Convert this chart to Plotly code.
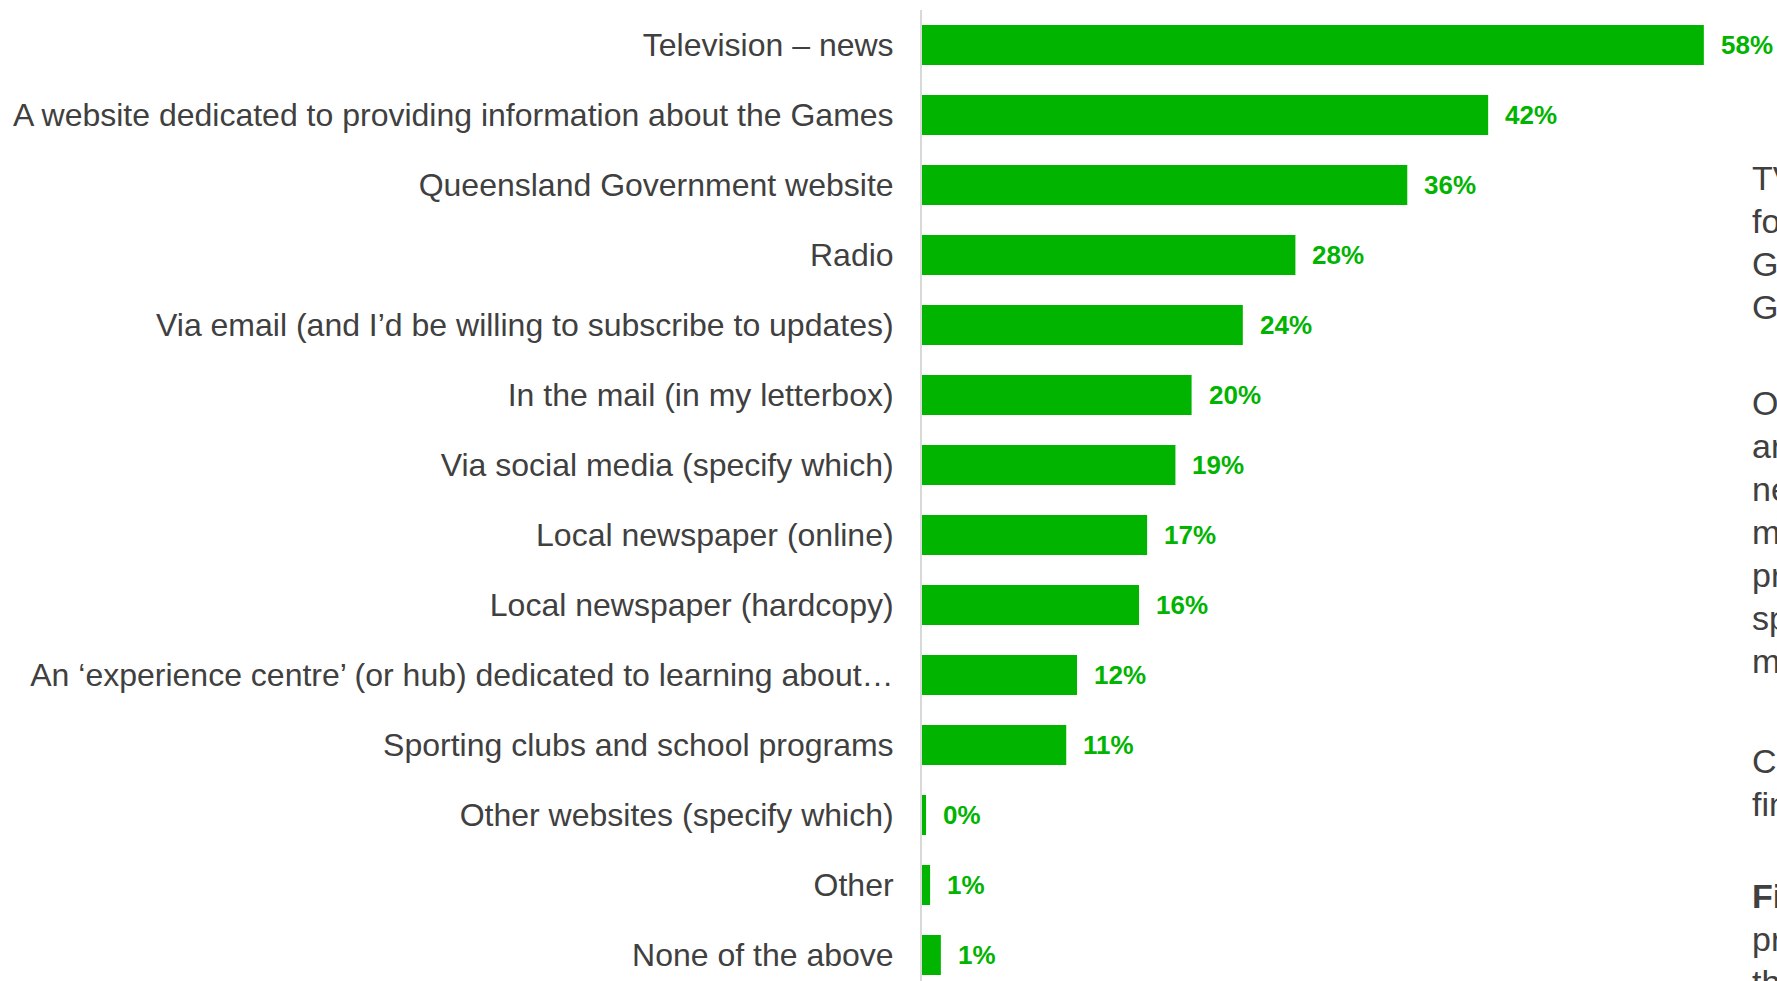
import plotly.graph_objects as go

# ---------------- data ----------------
categories = [
    "Television – news",
    "A website dedicated to providing information about the Games",
    "Queensland Government website",
    "Radio",
    "Via email (and I’d be willing to subscribe to updates)",
    "In the mail (in my letterbox)",
    "Via social media (specify which)",
    "Local newspaper (online)",
    "Local newspaper (hardcopy)",
    "An ‘experience centre’ (or hub) dedicated to learning about…",
    "Sporting clubs and school programs",
    "Other websites (specify which)",
    "Other",
    "None of the above",
]
values = [58.0, 42.0, 36.0, 27.7, 23.8, 20.0, 18.8, 16.7, 16.1, 11.5, 10.7, 0.3, 0.6, 1.4]
value_labels = ["58%", "42%", "36%", "28%", "24%", "20%", "19%", "17%", "16%",
                "12%", "11%", "0%", "1%", "1%"]

side_paragraphs = [
    ["TV news is the most preferred channel",
     "for information about the Brisbane 2032",
     "Games, followed by a website dedicated to",
     "Games information."],
    ["Other channels such as email, mail",
     "are also preferred, along with local",
     "newspapers, which were selected by",
     "meaningful shares of residents; school",
     "programs delivered through schools and",
     "sporting clubs and experience centres",
     "may play a supporting role."],
    ["Channel preferences varied by age,",
     "find further detail in the appendix."],
    ["<b>Finding:</b> a mix of channels is",
     "preferred to reach residents across",
     "the state."],
]

# ---------------- style ----------------
GREEN = "#00B400"
TEXT = "#404040"
FONT = "Liberation Sans, Arial, sans-serif"

W, H = 1777, 981
ML, MR, MT, MB = 922, 0, 10, 0
PX_PER_PCT = 13.48
PX_PER_CAT = 70

plot_w = W - ML - MR
plot_h = H - MT - MB

fig = go.Figure(
    go.Bar(
        x=values,
        y=categories,
        orientation="h",
        marker=dict(color=GREEN, line=dict(width=0)),
        hoverinfo="skip",
    )
)

# value labels
for v, cat, lab in zip(values, categories, value_labels):
    fig.add_annotation(
        x=v, y=cat, xref="x", yref="y",
        text=lab, showarrow=False,
        xanchor="left", yanchor="middle", xshift=15,
        font=dict(family=FONT, size=26, color=GREEN, weight="bold"),
    )

# clipped side text on the right
side_fs = 34
x_side = (1750 - ML) / plot_w
para_baselines = [
    [190, 233, 276, 319],
    [415, 458, 501, 544, 587, 630, 673],
    [773, 816],
    [908, 951, 994],
]
for lines, bases in zip(side_paragraphs, para_baselines):
    for line, b in zip(lines, bases):
        ymid_px = b - 0.35 * side_fs
        fig.add_annotation(
            x=x_side, y=(H - MB - ymid_px) / plot_h,
            xref="paper", yref="paper",
            text=line, showarrow=False,
            xanchor="left", yanchor="middle", align="left",
            font=dict(family=FONT, size=side_fs, color=TEXT),
        )

fig.update_layout(
    width=W, height=H,
    margin=dict(l=ML, r=MR, t=MT, b=MB, pad=0),
    paper_bgcolor="white",
    plot_bgcolor="white",
    showlegend=False,
    bargap=1 - 40 / PX_PER_CAT,
    font=dict(family=FONT, color=TEXT),
    xaxis=dict(
        range=[0, plot_w / PX_PER_PCT],
        visible=False,
        showgrid=False,
        zeroline=False,
        fixedrange=True,
    ),
    yaxis=dict(
        type="category",
        categoryorder="array",
        categoryarray=categories,
        range=[-0.5 + plot_h / PX_PER_CAT, -0.5],
        showline=True,
        linecolor="#D9D9D9",
        linewidth=2,
        showgrid=False,
        zeroline=False,
        ticks="",
        ticklabelstandoff=20,
        tickfont=dict(family=FONT, size=32, color=TEXT),
        fixedrange=True,
    ),
)

fig.write_html("out.html", config={"displayModeBar": False})
